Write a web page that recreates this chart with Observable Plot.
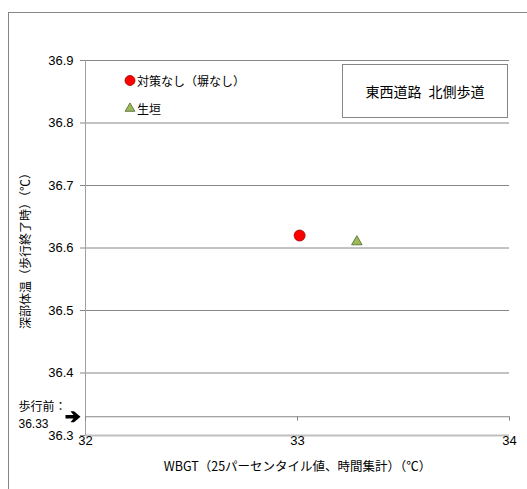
<!DOCTYPE html>
<html><head><meta charset="utf-8">
<script src="https://cdn.jsdelivr.net/npm/d3@7"></script>
<script src="https://cdn.jsdelivr.net/npm/@observablehq/plot@0.6"></script>
<style>
body{margin:0;background:#fff;}
#wrap{position:relative;width:527px;height:489px;overflow:hidden;font-family:"Liberation Sans","Noto Sans CJK JP",sans-serif;}
#frame{position:absolute;left:8px;top:12px;width:700px;height:700px;border:1px solid #868686;box-sizing:border-box;}
#chart{position:absolute;left:0;top:0;}
#legend{position:absolute;left:124px;top:66px;font-size:12px;font-family:"Noto Sans CJK JP",sans-serif;color:#000;}
#legend .row{display:flex;align-items:center;height:28px;}
#legend svg{margin-right:1px;}
#note{position:absolute;left:342px;top:64px;width:166px;height:54px;box-sizing:border-box;border:1px solid #868686;background:#fff;display:flex;align-items:center;justify-content:center;font-size:14px;font-family:"Noto Sans CJK JP",sans-serif;}
</style>
</head><body>
<div id="wrap">
  <div id="frame"></div>
  <div id="chart"></div>
  <div id="legend"></div>
  <div id="note"></div>
</div>
<script>
// ---- data ----
const seriesNames = ["対策なし（塀なし）", "生垣"];
const wbgtValues = [33.01, 33.28];
const coreTempValues = [36.62, 36.61];
const seriesSymbols = ["circle", "triangle"];
const seriesFills = ["#ff0000", "#9bbb59"];
const seriesStrokes = ["#a00000", "#4f6228"];
const preWalkTemp = 36.33;
const xTicks = [32, 33, 34];
const yTicks = [36.3, 36.4, 36.5, 36.6, 36.7, 36.8, 36.9];
const xTitle = "WBGT（25パーセンタイル値、時間集計）（℃）";
const yTitle = "深部体温（歩行終了時）（℃）";
const preWalkLabel = "歩行前：";
const noteText = "東西道路\u2002北側歩道";

const data = seriesNames.map((name, i) => ({
  name, x: wbgtValues[i], y: coreTempValues[i],
  symbol: seriesSymbols[i], fill: seriesFills[i], stroke: seriesStrokes[i]
}));

const font = '"Liberation Sans","Noto Sans CJK JP",sans-serif';
const cjk = '"Noto Sans CJK JP",sans-serif';

// bold arrow glyph (➔) as a custom symbol
const arrowSymbol = {
  draw(ctx) {
    ctx.moveTo(-7.5, -1.7); ctx.lineTo(0.5, -1.7); ctx.lineTo(-2.5, -5.5);
    ctx.lineTo(1, -5.5); ctx.lineTo(7.5, 0); ctx.lineTo(1, 5.5);
    ctx.lineTo(-2.5, 5.5); ctx.lineTo(0.5, 1.7); ctx.lineTo(-7.5, 1.7); ctx.closePath();
  }
};

const chart = Plot.plot({
  width: 527, height: 489,
  marginLeft: 85, marginRight: 18, marginTop: 60, marginBottom: 54,
  x: {domain: [xTicks[0], xTicks[xTicks.length - 1]]},
  y: {domain: [yTicks[0], yTicks[yTicks.length - 1]]},
  r: {type: "identity"},
  style: {fontFamily: font, fontSize: "13px", background: "transparent", color: "#000", overflow: "visible"},
  marks: [
    Plot.ruleY(yTicks.slice(1), {stroke: "#868686", strokeWidth: 1}),
    Plot.ruleY([yTicks[0]], {stroke: "#c0c0c0", strokeWidth: 2}),
    Plot.ruleY([preWalkTemp], {stroke: "#868686", strokeWidth: 1}),
    Plot.ruleX([xTicks[0]], {stroke: "#a0a0a0", strokeWidth: 1}),
    Plot.ruleX(xTicks, {y1: preWalkTemp, y2: preWalkTemp - 0.007, stroke: "#868686"}),
    Plot.axisY({ticks: yTicks, tickSize: 5, tickPadding: 7, tickFormat: d => d.toFixed(1),
      label: null, stroke: "#868686", fill: "#000", fontSize: 13}),
    Plot.axisX({ticks: xTicks, tickSize: 0, tickPadding: 0, tickFormat: d => String(d),
      label: null, fill: "#000", fontSize: 13}),
    Plot.text([yTitle], {frameAnchor: "left", rotate: -90, dx: -59, text: d => d,
      textAnchor: "middle", lineAnchor: "middle",
      fontSize: 12, fontFamily: cjk, fill: "#000"}),
    Plot.text([xTitle], {frameAnchor: "bottom", dy: 31, text: d => d,
      textAnchor: "middle", lineAnchor: "middle",
      fontSize: 12.5, fontFamily: cjk, fill: "#000"}),
    Plot.text([preWalkTemp], {frameAnchor: "left", y: d => d, text: () => preWalkLabel,
      dx: -67, dy: -10, textAnchor: "start", lineAnchor: "middle", fontSize: 12, fontFamily: cjk, fill: "#000"}),
    Plot.text([preWalkTemp], {frameAnchor: "left", y: d => d, text: d => String(d),
      dx: -67, dy: 7, textAnchor: "start", lineAnchor: "middle", fontSize: 12, fill: "#000"}),
    Plot.dot([preWalkTemp], {frameAnchor: "left", y: d => d, dx: -12.5, r: 5,
      symbol: arrowSymbol, fill: "#000", stroke: "none"}),
    Plot.dot(data, {x: "x", y: "y", symbol: "symbol", fill: "fill", stroke: "stroke",
      r: d => d.symbol === "circle" ? 5.5 : 3.9, strokeWidth: 0.8})
  ]
});
document.getElementById("chart").appendChild(chart);

// legend
const legend = d3.select("#legend");
data.forEach(d => {
  const row = legend.append("div").attr("class", "row");
  const svg = row.append("svg").attr("width", 12).attr("height", 12);
  const sym = d.symbol === "circle" ? d3.symbolCircle : d3.symbolTriangle;
  const size = d.symbol === "circle" ? Math.PI * 5 * 5 : Math.PI * 3.6 * 3.6;
  svg.append("path").attr("transform", "translate(6,6.5)")
    .attr("d", d3.symbol(sym, size)())
    .attr("fill", d.fill).attr("stroke", d.stroke).attr("stroke-width", 0.8);
  row.append("span").text(d.name);
});
document.getElementById("note").textContent = noteText;
</script>
</body></html>
